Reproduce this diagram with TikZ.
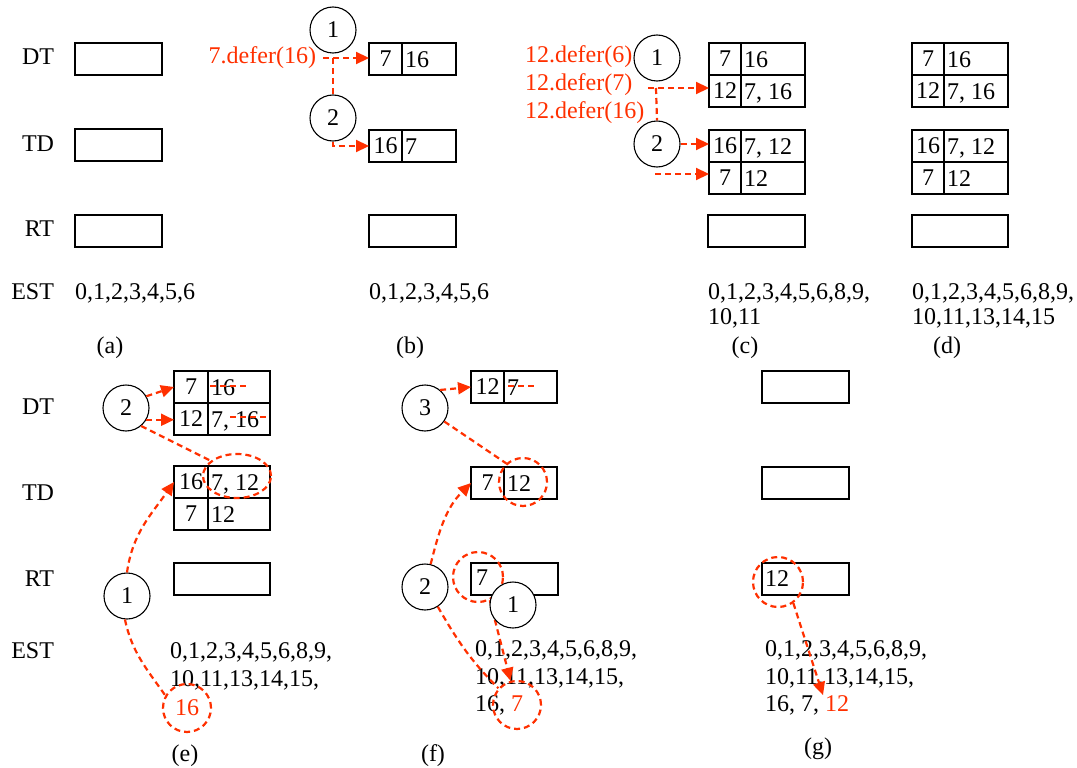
\documentclass[tikz,border=0pt]{standalone}
\usepackage{fontspec}
\setmainfont{Liberation Serif}
\usetikzlibrary{arrows.meta,shapes.geometric,calc}
\definecolor{myred}{RGB}{255,48,0}
% #1 name, #2 x, #3 y top, #4 left width, #5 right width, #6 left text, #7 right text
\newcommand\mkrow[7]{%
  \node[cellbox,minimum width=#4,anchor=north west] (#1l) at (#2,#3) {#6};
  \node[cellbox,minimum width=#5,anchor=west] (#1r) at (#1l.east) {};
  \node[txt,anchor=base west] (#1t) at ([xshift=3pt,yshift=-8.1pt]#1r.west) {#7};}
\begin{document}
\begin{tikzpicture}[x=1pt,y=-1pt,font=\fontsize{24}{27.5}\selectfont,
  cellbox/.style={draw,line width=2.3pt,minimum height=32,inner sep=0,outer sep=0},
  box/.style={cellbox,minimum height=32},
  txt/.style={inner sep=0,outer sep=0},
  rtxt/.style={txt,text=myred},
  circ/.style={circle,draw,line width=1.1pt,minimum size=46,inner sep=0,fill=white},
  rd/.style={draw=myred,line width=2.2pt,dash pattern=on 6pt off 4pt},
  rda/.style={rd,-{Triangle[length=13pt,width=12pt]}},
  rcirc/.style={circle,rd,minimum size=48,inner sep=0},
  rell/.style={ellipse,rd,minimum width=68,minimum height=44,inner sep=0}]
\useasboundingbox (0,0) rectangle (1077,768);

% row labels
\node[txt,anchor=base east] (l1) at (54,65) {DT};
\node[txt,anchor=base east] (l2) at (54,151) {TD};
\node[txt,anchor=base east] (l3) at (54,236) {RT};
\node[txt,anchor=base east] (l4) at (54,299) {EST};
\node[txt,anchor=base east] (l5) at (54,414) {DT};
\node[txt,anchor=base east] (l6) at (54,500) {TD};
\node[txt,anchor=base east] (l7) at (54,586) {RT};
\node[txt,anchor=base east] (l8) at (54,658) {EST};

% (a)
\node[box,minimum width=87,anchor=north west] (aDT) at (75,43) {};
\node[box,minimum width=87,anchor=north west] (aTD) at (75,129) {};
\node[box,minimum width=87,anchor=north west] (aRT) at (75,215) {};
\node[txt,anchor=base west] (aE) at (75,299) {0,1,2,3,4,5,6};
\node[txt,anchor=base] (aL) at (110,353) {(a)};

% (b)
\mkrow{bDT}{369}{43}{33}{54}{7}{16}
\mkrow{bTD}{369}{130}{33}{54}{16}{7}
\node[box,minimum width=87,anchor=north west] (bRT) at (369,215) {};
\node[txt,anchor=base west] (bE) at (369,299) {0,1,2,3,4,5,6};
\node[txt,anchor=base] (bL) at (410,353) {(b)};
\node[circ] (b1) at (333,30) {1};
\node[circ] (b2) at (333,118) {2};
\node[rtxt,anchor=base east] (bd) at (316,64) {7.defer(16)};
\coordinate (bs) at (323,58);
\coordinate (bj) at (333,58);
\draw[rda] (bs) -- (bs -| bDTl.west);
\draw[rd] (bj) -- (b2.north);
\draw[rda] (b2.south) |- (bTDl.west);

% (c)
\mkrow{cDTa}{709}{43}{32}{64}{7}{16}
\mkrow{cDTb}{709}{75}{32}{64}{12}{7, 16}
\mkrow{cTDa}{709}{130}{32}{64}{16}{7, 12}
\mkrow{cTDb}{709}{162}{32}{64}{7}{12}
\node[box,minimum width=97,anchor=north west] (cRT) at (708,215) {};
\node[txt,anchor=base west] (cE1) at (708,299) {0,1,2,3,4,5,6,8,9,};
\node[txt,anchor=base west] (cE2) at (708,324) {10,11};
\node[txt,anchor=base] (cL) at (745,353) {(c)};
\node[circ] (c1) at (657,58) {1};
\node[circ] (c2) at (657,144) {2};
\node[rtxt,anchor=base west] (cd1) at (525,63) {12.defer(6)};
\node[rtxt,anchor=base west] (cd2) at (525,91) {12.defer(7)};
\node[rtxt,anchor=base west] (cd3) at (525,118) {12.defer(16)};
\coordinate (cs) at (648,88);
\coordinate (cj) at (656,88);
\coordinate (ck) at (655,174);
\draw[rda] (cs) -- (cs -| cDTbl.west);
\draw[rd] (cj) -- (c2.north);
\draw[rda] (c2.east) -- (c2.east -| cTDal.west);
\draw[rda] (ck) -- (ck -| cTDbl.west);

% (d)
\mkrow{dDTa}{912}{43}{32}{64}{7}{16}
\mkrow{dDTb}{912}{75}{32}{64}{12}{7, 16}
\mkrow{dTDa}{912}{130}{32}{64}{16}{7, 12}
\mkrow{dTDb}{912}{162}{32}{64}{7}{12}
\node[box,minimum width=96,anchor=north west] (dRT) at (912,215) {};
\node[txt,anchor=base west] (dE1) at (912,299) {0,1,2,3,4,5,6,8,9,};
\node[txt,anchor=base west] (dE2) at (912,324) {10,11,13,14,15};
\node[txt,anchor=base] (dL) at (947,353) {(d)};

% (e)
\mkrow{eDTa}{174}{371}{34}{62}{7}{16}
\mkrow{eDTb}{174}{403}{34}{62}{12}{7, 16}
\mkrow{eTDa}{174}{466}{34}{62}{16}{7, 12}
\mkrow{eTDb}{174}{498}{34}{62}{7}{12}
\node[box,minimum width=96,anchor=north west] (eRT) at (174,563) {};
\draw[rd] (210,386) -- (247,386);
\draw[rd] (230,417) -- (267,417);
\node[circ] (e2) at (126,408) {2};
\node[rell] (eell) at (237,476) {};
\draw[rda] (e2.30) -- (eDTal.west);
\draw[rda] (e2.-30) -- (e2.-30 -| eDTbl.west);
\draw[rd] (e2.-50) -- (eell.150);
\node[circ] (e1) at (127,596) {1};
\draw[rda] (e1.north) to[out=82,in=235] (eTDal.west);
\node[txt,anchor=base west] (eE1) at (170,658) {0,1,2,3,4,5,6,8,9,};
\node[txt,anchor=base west] (eE2) at (170,686) {10,11,13,14,15,};
\node[rcirc,text=myred] (e16) at (187,708) {16};
\draw[rd] (e1.-95) to[out=-78,in=125] (e16.150);
\node[txt,anchor=base] (eL) at (185,761) {(e)};

% (f)
\mkrow{fDT}{471}{371}{33}{53}{12}{7}
\draw[rd] (508,386) -- (535,386);
\node[circ] (f3) at (425,408) {3};
\draw[rda] (f3.50) -- (fDTl.west);
\mkrow{fTD}{471}{467}{33}{53}{7}{12}
\node[rcirc] (f12c) at (523,482) {};
\draw[rd] (f3.-35) -- (f12c.132);
\node[box,minimum width=87,anchor=north west] (fRT) at (471,563) {};
\node[txt] (f7) at (482,578) {7};
\node[rcirc,minimum size=50] (f7r) at (478,577) {};
\node[circ] (f2) at (425,587) {2};
\draw[rda] (f2.76) to[out=76,in=225] (fTDl.west);
\node[txt,anchor=base west] (fE1) at (475,656) {0,1,2,3,4,5,6,8,9,};
\node[txt,anchor=base west] (fE2) at (475,684) {10,11,13,14,15,};
\node[txt,anchor=base west] (fE3) at (475,711) {16, \textcolor{myred}{7}};
\node[rcirc] (f7c) at (517,705) {};
\draw[rda] (f7r.-63) -- (f7c.105);
\draw[rd] (f2.-57) to[out=-60,in=135] (f7c.138);
\node[circ] (f1) at (513,605) {1};
\node[txt,anchor=base] (fL) at (433,761) {(f)};

% (g)
\node[box,minimum width=87,anchor=north west] (gDT) at (762,371) {};
\node[box,minimum width=87,anchor=north west] (gTD) at (762,467) {};
\node[box,minimum width=87,anchor=north west] (gRT) at (762,563) {};
\node[txt] (g12) at (777,579) {12};
\node[rcirc,minimum size=50] (g12r) at (778,582) {};
\node[txt,anchor=base west] (gE1) at (765,656) {0,1,2,3,4,5,6,8,9,};
\node[txt,anchor=base west] (gE2) at (765,684) {10,11,13,14,15,};
\node[txt,anchor=base west] (gE3) at (765,711) {16, 7,};
\node[rtxt,anchor=base west] (g12t) at ([xshift=6pt]gE3.base east) {12};
\draw[rda] (g12r.-54) -- ([xshift=-2pt]g12t.north west);
\node[txt,anchor=base] (gL) at (818,754) {(g)};
\end{tikzpicture}
\end{document}
